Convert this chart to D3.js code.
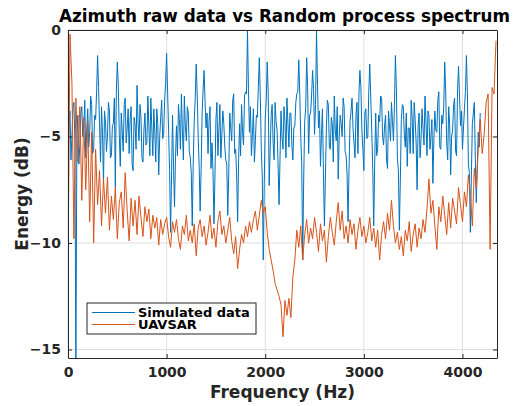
<!DOCTYPE html>
<html>
<head>
<meta charset="utf-8">
<script src="https://cdn.jsdelivr.net/npm/d3@7"></script>
<style>
  body { margin: 0; background: #fff; }
  svg { display: block; font-family: "DejaVu Sans", sans-serif; font-weight: bold; }
</style>
</head>
<body>
<svg id="chart" width="519" height="406"></svg>
<script>
// simulated spectrum: one value every 10 Hz, uavsar: every 20 Hz, both from 0 Hz
const simulatedStep = 10;
const uavsarStep = 20;

const simulatedData = [
  -5.8, -4.4, -3.8, -6.1, -5.0, -3.6, -3.4, -5.2, -16.0, -4.9,
  -4.0, -6.3, -5.4, -3.9, -3.6, -5.0, -4.6, -3.3, -6.0, -4.7,
  -3.7, -5.5, -4.8, -3.1, -3.5, -5.8, -5.6, -4.0, -4.2, -2.9,
  -1.2, -2.7, -4.5, -6.2, -3.6, -4.9, -7.2, -3.8, -4.3, -5.7,
  -5.0, -3.4, -3.8, -6.0, -5.9, -4.5, -4.4, -3.2, -7.4, -3.0,
  -1.5, -2.6, -4.9, -6.4, -3.9, -4.8, -5.7, -3.5, -3.2, -5.3,
  -4.6, -3.7, -5.8, -4.2, -3.6, -6.3, -6.6, -4.1, -4.4, -5.6,
  -2.6, -4.3, -5.2, -3.5, -4.1, -6.0, -6.2, -4.7, -3.9, -5.4,
  -5.3, -3.1, -4.5, -5.9, -3.2, -4.6, -5.9, -3.7, -4.8, -6.2,
  -3.7, -4.4, -6.8, -5.0, -4.1, -3.3, -5.1, -4.9, -3.3, -2.5,
  -1.1, -2.9, -4.7, -6.6, -9.5, -6.8, -4.0, -6.4, -8.3, -6.0,
  -4.5, -5.9, -3.5, -4.2, -5.6, -3.0, -4.7, -6.1, -3.1, -4.5,
  -5.2, -3.6, -3.9, -5.7, -6.0, -6.7, -9.2, -6.2, -4.3, -3.2,
  -1.6, -3.0, -5.0, -6.4, -8.5, -6.5, -3.9, -2.8, -1.9, -3.4,
  -4.6, -3.9, -5.8, -4.3, -3.6, -6.5, -5.3, -6.6, -9.1, -6.9,
  -4.2, -3.4, -5.9, -4.7, -3.5, -6.0, -4.9, -3.8, -4.4, -5.5,
  -6.1, -6.3, -8.7, -6.7, -3.9, -4.6, -5.2, -3.3, -3.0, -5.8,
  -5.6, -6.8, -9.0, -6.1, -4.4, -5.9, -3.5, -4.8, -5.4, -3.1,
  -2.9, -3.0, 0.0, -2.8, -4.8, -3.6, -5.9, -4.9, -3.7, -6.2,
  -5.2, -4.0, -4.1, -2.7, -1.3, -3.1, -5.6, -6.9, -10.8, -7.2,
  -4.2, -3.3, -1.5, -2.9, -7.3, -5.6, -4.0, -3.5, -5.3, -6.1,
  -3.4, -4.3, -4.7, -6.3, -8.2, -6.0, -3.8, -5.0, -5.6, -3.6,
  -4.3, -6.0, -3.2, -4.4, -5.5, -3.9, -3.9, -5.4, -6.1, -4.6,
  -4.5, -3.4, -3.0, -2.9, -1.4, -3.0, -5.0, -6.3, -10.8, -7.0,
  -4.3, -3.7, -1.3, -2.7, -5.8, -4.0, -3.9, -3.1, -1.9, -2.8,
  -4.9, -3.5, 0.0, -2.6, -4.6, -3.8, -6.4, -4.9, -3.7, -6.6,
  -9.2, -6.9, -4.6, -3.3, -3.5, -5.5, -5.6, -4.1, -4.4, -6.2,
  -3.1, -4.7, -5.2, -3.6, -7.0, -5.0, -4.0, -4.4, -5.0, -3.2,
  -3.6, -5.7, -5.9, -6.8, -9.0, -6.4, -4.3, -3.8, -3.2, -4.6,
  -5.3, -6.0, -4.0, -3.4, -5.8, -3.0, -1.9, -2.7, -4.7, -5.6,
  -6.6, -3.9, -3.7, -5.1, -5.0, -2.9, -1.6, -3.2, -4.7, -6.5,
  -9.2, -6.2, -3.9, -5.9, -5.6, -4.0, -4.3, -3.1, -3.2, -5.0,
  -5.4, -4.5, -4.0, -6.1, -6.5, -3.8, -4.5, -5.2, -3.4, -4.3,
  -5.2, -3.6, -1.2, -2.8, -6.0, -6.6, -9.4, -7.0, -4.2, -3.5,
  -3.6, -4.9, -5.5, -3.9, -6.4, -4.6, -4.6, -5.8, -3.3, -4.1,
  -5.8, -3.4, -4.2, -5.3, -7.5, -4.5, -3.9, -6.0, -5.1, -3.7,
  -4.6, -5.4, -3.1, -4.3, -5.9, -3.8, -4.0, -5.6, -5.0, -4.2,
  -7.2, -5.1, -3.8, -4.7, -4.8, -3.3, -2.9, -5.5, -5.6, -4.0,
  -4.4, -3.6, -1.5, -2.9, -5.3, -6.1, -3.6, -4.4, -6.8, -5.0,
  -4.7, -3.5, -3.2, -5.7, -5.9, -2.8, -1.7, -3.1, -4.5, -3.8,
  -5.6, -4.6, -3.7, -2.9, -1.2, -3.0, -6.3, -6.7, -9.5, -6.9,
  -4.4, -3.9, -3.4, -6.0, -8.1, -6.4, -4.8, -5.5, -3.9
];

const uavsarData = [
  -11.4, -0.2, -2.5, -9.8, -3.2, -6.2, -3.6, -8.0, -4.1, -7.5,
  -4.3, -9.0, -4.8, -10.0, -5.6, -8.2, -6.6, -9.2, -7.0, -8.6,
  -6.9, -9.4, -7.8, -8.9, -7.4, -9.8, -8.1, -7.6, -9.3, -6.7,
  -8.5, -9.9, -7.9, -9.2, -8.0, -9.6, -7.8, -8.8, -9.7, -8.3,
  -9.0, -8.4, -9.8, -8.7, -9.3, -8.8, -10.1, -8.9, -9.6, -9.1,
  -8.8, -9.7, -10.2, -9.0, -9.5, -8.9, -9.8, -10.3, -9.2, -9.6,
  -8.7, -9.9, -9.4, -10.0, -9.1, -10.6, -9.3, -8.9, -9.7, -9.2,
  -10.1, -9.5, -8.7, -9.8, -9.3, -10.2, -9.0, -8.5, -9.6, -9.2,
  -10.0, -9.4, -8.8, -9.9, -10.5, -9.7, -11.2, -10.3, -9.6, -10.0,
  -9.2, -9.7, -9.0, -9.5, -8.9, -8.5, -9.4, -8.7, -8.0, -8.6,
  -8.3, -9.5, -10.3, -10.8, -11.3, -11.9, -12.2, -12.5, -12.9, -14.4,
  -12.7, -13.4, -12.6, -13.5, -11.6, -10.8, -9.4, -10.2, -9.2, -10.8,
  -9.6, -8.9, -10.0, -9.3, -9.8, -8.8, -9.5, -10.4, -9.1, -9.9,
  -9.4, -10.9, -9.7, -8.8, -9.5, -10.1, -9.0, -8.1, -9.4, -8.5,
  -9.8, -9.2, -10.0, -8.9, -9.6, -9.1, -10.3, -9.4, -8.8, -9.7,
  -9.2, -10.0, -9.5, -8.8, -9.9, -9.3, -10.2, -9.4, -10.8, -9.6,
  -9.0, -9.8, -8.6, -9.4, -8.0, -9.2, -10.0, -9.5, -10.3, -9.7,
  -10.6, -9.4, -9.9, -9.0, -10.4, -9.6, -9.1, -10.2, -9.3, -9.8,
  -8.9, -9.5, -8.4, -7.0, -8.6, -8.0, -9.2, -10.3, -8.3, -9.0,
  -7.8, -8.7, -9.6, -8.1, -9.3, -7.9, -8.5, -9.1, -7.4, -8.2,
  -9.0, -7.6, -8.3, -6.8, -7.7, -9.2, -6.5, -7.4, -5.6, -4.2,
  -5.8, -4.9, -3.4, -3.0, -10.3, -2.7, -3.0, -0.5
];

const seriesNames = ["Simulated data", "UAVSAR"];
const seriesColors = ["#0072BD", "#D95319"];
const xTicks = [0, 1000, 2000, 3000, 4000];
const yTicks = [0, -5, -10, -15];

const svg = d3.select("#chart");
const margin = { top: 30, right: 22, bottom: 48, left: 68 };
const width = 519 - margin.left - margin.right;
const height = 406 - margin.top - margin.bottom;

const x = d3.scaleLinear().domain([0, 4350]).range([0, width]);
const y = d3.scaleLinear().domain([-15.4, 0]).range([height, 0]);

const g = svg.append("g").attr("transform", `translate(${margin.left},${margin.top})`);

// grid
g.append("g").selectAll("line").data(xTicks).enter().append("line")
  .attr("x1", d => x(d)).attr("x2", d => x(d))
  .attr("y1", 0).attr("y2", height)
  .attr("stroke", "#dfdfdf").attr("stroke-width", 1);
g.append("g").selectAll("line").data(yTicks).enter().append("line")
  .attr("x1", 0).attr("x2", width)
  .attr("y1", d => y(d)).attr("y2", d => y(d))
  .attr("stroke", "#dfdfdf").attr("stroke-width", 1);

svg.append("clipPath").attr("id", "plotClip")
  .append("rect").attr("width", width).attr("height", height);

const plot = g.append("g").attr("clip-path", "url(#plotClip)");
[[simulatedData, simulatedStep], [uavsarData, uavsarStep]].forEach(([data, step], k) => {
  const line = d3.line()
    .x((d, i) => x(i * step))
    .y(d => y(d));
  plot.append("path")
    .datum(data)
    .attr("fill", "none")
    .attr("stroke", seriesColors[k])
    .attr("stroke-width", 1)
    .attr("stroke-linejoin", "round")
    .attr("d", line);
});

// axes, ticks pointing inward like matlab
const axisColor = "#262626";
g.append("g").attr("transform", `translate(0,${height})`)
  .call(d3.axisBottom(x).tickValues(xTicks).tickFormat(d3.format("d"))
    .tickSizeInner(-4).tickSizeOuter(0).tickPadding(9));
g.append("g")
  .call(d3.axisLeft(y).tickValues(yTicks).tickFormat(d3.format("d"))
    .tickSizeInner(-4).tickSizeOuter(0).tickPadding(7));
g.append("g")
  .call(d3.axisTop(x).tickValues(xTicks).tickSizeInner(-4).tickSizeOuter(0).tickFormat(""));
g.append("g").attr("transform", `translate(${width},0)`)
  .call(d3.axisRight(y).tickValues(yTicks).tickSizeInner(-4).tickSizeOuter(0).tickFormat(""));

g.selectAll(".domain").attr("stroke", axisColor);
g.selectAll(".tick line").attr("stroke", axisColor);
g.selectAll(".tick text")
  .attr("fill", axisColor)
  .style("font-family", "DejaVu Sans, sans-serif")
  .style("font-weight", "bold")
  .style("font-size", "14px");

// titles
svg.append("text")
  .attr("x", margin.left + width / 2 + 2).attr("y", 22)
  .attr("text-anchor", "middle")
  .style("font-size", "16.8px")
  .attr("fill", "#000")
  .text("Azimuth raw data vs Random process spectrum");

svg.append("text")
  .attr("x", margin.left + width / 2).attr("y", 398)
  .attr("text-anchor", "middle")
  .style("font-size", "17px")
  .attr("fill", axisColor)
  .text("Frequency (Hz)");

svg.append("text")
  .attr("transform", `translate(28,${margin.top + height / 2}) rotate(-90)`)
  .attr("text-anchor", "middle")
  .style("font-size", "17px")
  .attr("fill", axisColor)
  .text("Energy (dB)");

// legend
const legend = svg.append("g").attr("transform", "translate(87,303)");
legend.append("rect")
  .attr("width", 169).attr("height", 31)
  .attr("fill", "#fff").attr("stroke", axisColor).attr("stroke-width", 1);
seriesNames.forEach((name, k) => {
  const row = legend.append("g").attr("transform", `translate(0,${9.5 + k * 12})`);
  row.append("line")
    .attr("x1", 5).attr("x2", 48)
    .attr("stroke", seriesColors[k]).attr("stroke-width", 1);
  row.append("text")
    .attr("x", 51).attr("y", 4.5)
    .style("font-size", "13px")
    .attr("fill", "#000")
    .text(name);
});
</script>
</body>
</html>
